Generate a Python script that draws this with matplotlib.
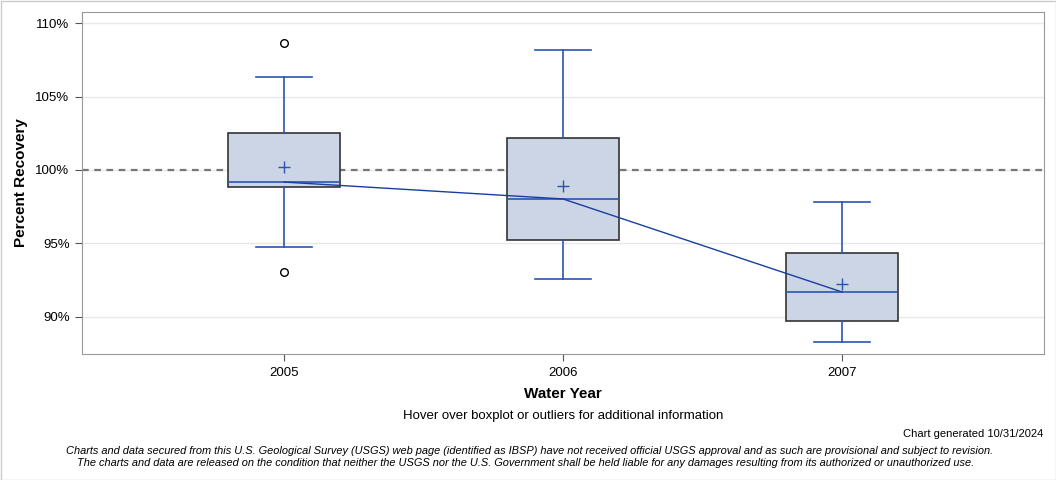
import matplotlib
matplotlib.use('Agg')
import matplotlib.pyplot as plt
from matplotlib.patches import Rectangle

plt.rcParams['font.family'] = ['Liberation Sans', 'DejaVu Sans']

years = ['2005', '2006', '2007']
q1 = [98.84, 95.24, 89.73]
med = [99.18, 98.03, 91.70]
q3 = [102.52, 102.18, 94.35]
means = [100.22, 98.91, 92.24]
whislo = [94.76, 92.59, 88.30]
whishi = [106.33, 108.16, 97.82]
outliers = [[108.64, 93.06], [], []]

stats = []
for i in range(len(years)):
    stats.append(dict(label=years[i], q1=q1[i], med=med[i], q3=q3[i], mean=means[i],
                      whislo=whislo[i], whishi=whishi[i], fliers=outliers[i]))

fig = plt.figure(figsize=(10.56, 4.8), dpi=100)
ax = fig.add_axes([82 / 1056, 1 - 354 / 480, (1044 - 82) / 1056, (354 - 12) / 480])

blue = '#2a55b0'
ax.bxp(stats, positions=range(len(years)), widths=0.4, patch_artist=True, showmeans=True,
       boxprops=dict(facecolor='#cbd5e5', edgecolor='#333333', linewidth=1.2),
       medianprops=dict(color=blue, linewidth=1.2),
       whiskerprops=dict(color=blue, linewidth=1.2),
       capprops=dict(color=blue, linewidth=1.2),
       capwidths=0.2,
       flierprops=dict(marker='o', markerfacecolor='none', markeredgecolor='black',
                       markersize=5.5, markeredgewidth=1),
       meanprops=dict(marker='+', markeredgecolor=blue, markersize=9, markeredgewidth=1),
       zorder=3)

# line joining the medians
ax.plot(range(len(years)), med, color='#1a3ea0', linewidth=1, zorder=4)
ax.axhline(100, color='#777777', linestyle=(0, (3, 2.5)), linewidth=1.6, zorder=2)

ax.set_xlim(-0.724, 2.724)
ax.set_ylim(87.48, 110.75)
ax.set_yticks([90, 95, 100, 105, 110])
ax.set_yticklabels(['90%', '95%', '100%', '105%', '110%'])
ax.set_xticks(range(len(years)))
ax.set_xticklabels(years)
ax.grid(axis='y', color='#e8e8e8', linewidth=1, zorder=0)
ax.set_axisbelow(True)
for s in ax.spines.values():
    s.set_color('#999999')
ax.tick_params(colors='#555555', labelcolor='black', labelsize=9.5, length=5, pad=4)

ax.set_xlabel('Water Year', fontsize=11, fontweight='bold', labelpad=6)
ax.set_ylabel('Percent Recovery', fontsize=11, fontweight='bold', labelpad=5)

fig.text(563 / 1056, 1 - 416 / 480, 'Hover over boxplot or outliers for additional information',
         ha='center', va='center', fontsize=9.5)
fig.text(1043 / 1056, 1 - 434 / 480, 'Chart generated 10/31/2024', ha='right', va='center', fontsize=8)
fig.text(530 / 1056, 1 - 451 / 480,
         'Charts and data secured from this U.S. Geological Survey (USGS) web page (identified as IBSP) have not received official USGS approval and as such are provisional and subject to revision.',
         ha='center', va='center', fontsize=7.95, style='italic')
fig.text(526 / 1056, 1 - 463 / 480,
         'The charts and data are released on the condition that neither the USGS nor the U.S. Government shall be held liable for any damages resulting from its authorized or unauthorized use.',
         ha='center', va='center', fontsize=7.95, style='italic')

fig.patches.append(Rectangle((0.5 / 1056, 0.5 / 480), 1 - 1 / 1056, 1 - 1 / 480, transform=fig.transFigure,
                             fill=False, edgecolor='#cccccc', linewidth=1))

fig.savefig('out.png', dpi=100)
